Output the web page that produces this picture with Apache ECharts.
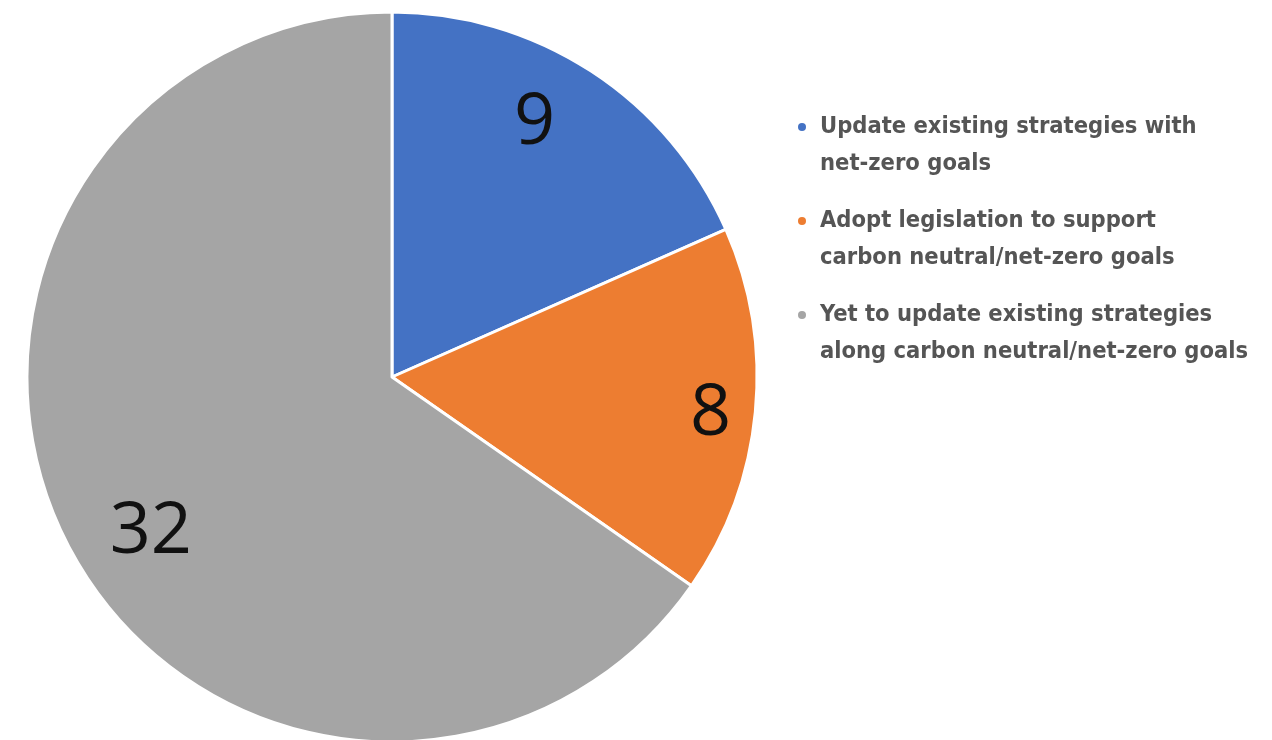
<!DOCTYPE html>
<html>
<head>
<meta charset="utf-8">
<style>
  html, body { margin: 0; padding: 0; background: #ffffff; }
  #chart { width: 1272px; height: 740px; }
</style>
<script src="https://cdn.jsdelivr.net/npm/echarts@6/dist/echarts.min.js"></script>
</head>
<body>
<div id="chart"></div>
<script>
// Responses by state strategy status
const categories = [
  'Update existing strategies with\nnet-zero goals',
  'Adopt legislation to support\ncarbon neutral/net-zero goals',
  'Yet to update existing strategies\nalong carbon neutral/net-zero goals'
];
const values = [9, 8, 32];
const colors = ['#4472C4', '#ED7D31', '#A5A5A5'];

// small nudges for the value labels (px), applied after the ring placement
const labelNudge = [[-20, -4], [22, 9], [23, 18]];

const legendFont = '"DejaVu Sans Condensed", "Roboto", sans-serif';

const pieData = categories.map((name, i) => ({
  name,
  value: values[i],
  itemStyle: { color: colors[i] }
}));

const rich = {
  g: { width: 14 },
  s: { width: 22 },
  t: { fontFamily: legendFont, fontWeight: 'bold', fontSize: 23.5, color: '#555555', lineHeight: 37 }
};
colors.forEach((c, i) => {
  rich['d' + i] = { width: 8, height: 8, borderRadius: 4, backgroundColor: c };
});

const chart = echarts.init(document.getElementById('chart'), null, { renderer: 'canvas' });
chart.setOption({
  animation: false,
  backgroundColor: '#ffffff',
  legend: {
    orient: 'vertical',
    left: 793,
    top: 115,
    icon: 'none',
    itemWidth: 0,
    itemHeight: 0,
    itemGap: 33,
    padding: 0,
    selectedMode: false,
    data: categories,
    formatter: function (name) {
      const i = categories.indexOf(name);
      const lines = name.split('\n');
      return '{d' + i + '|}{g|}{t|' + lines[0] + '}\n{s|}{t|' + lines[1] + '}';
    },
    textStyle: { rich: rich, padding: 0 }
  },
  series: [
    {
      type: 'pie',
      center: [392, 377],
      radius: [0, 365],
      startAngle: 90,
      clockwise: true,
      silent: true,
      label: { show: false },
      labelLine: { show: false },
      itemStyle: { borderColor: '#ffffff', borderWidth: 3 },
      data: pieData
    },
    {
      // transparent ring used only to place the value labels toward the rim
      type: 'pie',
      center: [392, 377],
      radius: [225, 365],
      startAngle: 90,
      clockwise: true,
      silent: true,
      legendHoverLink: false,
      itemStyle: { color: 'rgba(0,0,0,0)', borderWidth: 0 },
      label: {
        show: true,
        position: 'inside',
        formatter: '{c}',
        fontFamily: '"Open Sans", "Noto Sans", sans-serif',
        fontSize: 72,
        color: '#111111'
      },
      labelLine: { show: false },
      labelLayout: function (params) {
        const n = labelNudge[params.dataIndex] || [0, 0];
        return { dx: n[0], dy: n[1] };
      },
      data: categories.map((name, i) => ({ name, value: values[i] }))
    }
  ]
});
</script>
</body>
</html>
